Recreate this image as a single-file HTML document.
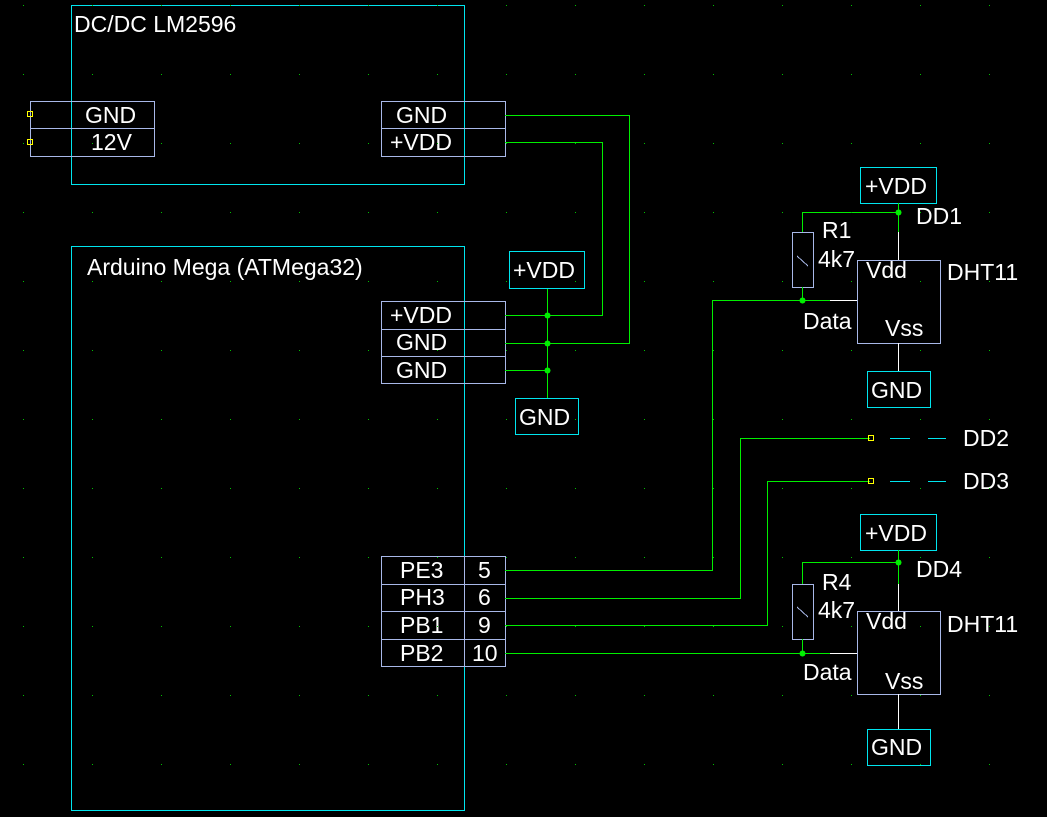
<!DOCTYPE html>
<html><head><meta charset="utf-8"><style>
html,body{margin:0;padding:0;background:#000;}
svg{display:block;}
text{font-family:"Liberation Sans",sans-serif;font-size:23px;fill:#fff;}
</style></head><body>
<svg width="1047" height="817" viewBox="0 0 1047 817" xmlns="http://www.w3.org/2000/svg" shape-rendering="crispEdges">
<rect width="1047" height="817" fill="#000"/>
<g fill="none" stroke-width="1">
<rect x="71.5" y="5.5" width="393" height="179" stroke="#00e5ee"/>
<rect x="71.5" y="246.5" width="393" height="564" stroke="#00e5ee"/>
<g stroke="#a8b8e8">
<rect x="30.5" y="101.5" width="124" height="55"/><line x1="30" y1="128.5" x2="155" y2="128.5"/>
<rect x="381.5" y="101.5" width="124" height="55"/><line x1="381" y1="128.5" x2="506" y2="128.5"/>
<rect x="381.5" y="301.5" width="124" height="82"/><line x1="381" y1="329.5" x2="506" y2="329.5"/><line x1="381" y1="356.5" x2="506" y2="356.5"/>
<rect x="381.5" y="556.5" width="124" height="110"/><line x1="381" y1="584.5" x2="506" y2="584.5"/><line x1="381" y1="611.5" x2="506" y2="611.5"/><line x1="381" y1="639.5" x2="506" y2="639.5"/>
<line x1="464.5" y1="556" x2="464.5" y2="667"/>
<rect x="792.5" y="232.5" width="21" height="55"/>
<rect x="792.5" y="584.5" width="21" height="55"/>
<rect x="857.5" y="260.5" width="83" height="83"/>
<rect x="857.5" y="611.5" width="83" height="83"/>
<line x1="797" y1="256" x2="808" y2="266"/>
<line x1="797" y1="607" x2="808" y2="617"/>
</g>
<g stroke="#00e5ee">
<rect x="509.5" y="251.5" width="75" height="37"/>
<rect x="515.5" y="398.5" width="63" height="36"/>
<rect x="860.5" y="167.5" width="76" height="36"/>
<rect x="867.5" y="371.5" width="63" height="36"/>
<rect x="860.5" y="514.5" width="76" height="36"/>
<rect x="867.5" y="729.5" width="63" height="36"/>
<line x1="890" y1="438.5" x2="910" y2="438.5"/><line x1="928" y1="438.5" x2="946" y2="438.5"/>
<line x1="890" y1="481.5" x2="910" y2="481.5"/><line x1="928" y1="481.5" x2="946" y2="481.5"/>
</g>
<g stroke="#00ee00">
<polyline points="505,115.5 629.5,115.5 629.5,343.5 505,343.5"/>
<polyline points="505,142.5 602.5,142.5 602.5,315.5 505,315.5"/>
<polyline points="547.5,289 547.5,398"/>
<line x1="505" y1="370.5" x2="547" y2="370.5"/>
<polyline points="505,570.5 712.5,570.5 712.5,300.5 830,300.5"/>
<polyline points="505,598.5 740.5,598.5 740.5,438.5 870,438.5"/>
<polyline points="505,625.5 767.5,625.5 767.5,481.5 870,481.5"/>
<line x1="505" y1="653.5" x2="830" y2="653.5"/>
<polyline points="802.5,232 802.5,212.5 898.5,212.5"/>
<line x1="898.5" y1="203" x2="898.5" y2="232"/>
<line x1="802.5" y1="287" x2="802.5" y2="300"/>
<polyline points="802.5,584 802.5,562.5 898.5,562.5"/>
<line x1="898.5" y1="550" x2="898.5" y2="584"/>
<line x1="802.5" y1="639" x2="802.5" y2="653"/>
</g>
<g stroke="#ffffff">
<line x1="898.5" y1="232" x2="898.5" y2="260"/>
<line x1="830" y1="300.5" x2="857" y2="300.5"/>
<line x1="898.5" y1="343" x2="898.5" y2="371"/>
<line x1="898.5" y1="584" x2="898.5" y2="611"/>
<line x1="830" y1="653.5" x2="857" y2="653.5"/>
<line x1="898.5" y1="694" x2="898.5" y2="729"/>
</g>
<g stroke="#ffff00">
<rect x="27.5" y="111.5" width="5" height="5"/>
<rect x="27.5" y="139.5" width="5" height="5"/>
<rect x="868.5" y="435.5" width="5" height="5"/>
<rect x="868.5" y="478.5" width="5" height="5"/>
</g>
</g>
<g fill="#00ee00">
<circle cx="547.5" cy="315.5" r="3"/><circle cx="547.5" cy="343.5" r="3"/><circle cx="547.5" cy="370.5" r="3"/>
<circle cx="898.5" cy="212.5" r="3"/><circle cx="802.5" cy="300.5" r="3"/>
<circle cx="898.5" cy="562.5" r="3"/><circle cx="802.5" cy="653.5" r="3"/>
</g>
<text x="74" y="32">DC/DC LM2596</text>
<text x="87" y="275">Arduino Mega (ATMega32)</text>
<text x="85" y="123">GND</text>
<text x="91" y="150">12V</text>
<text x="396" y="123">GND</text>
<text x="390" y="150">+VDD</text>
<text x="513" y="278">+VDD</text>
<text x="390" y="323">+VDD</text>
<text x="396" y="350">GND</text>
<text x="396" y="378">GND</text>
<text x="519" y="425">GND</text>
<text x="400" y="578">PE3</text>
<text x="400" y="605">PH3</text>
<text x="400" y="633">PB1</text>
<text x="400" y="661">PB2</text>
<text x="478" y="578">5</text>
<text x="478" y="605">6</text>
<text x="478" y="633">9</text>
<text x="472" y="661">10</text>
<text x="865" y="194">+VDD</text>
<text x="916" y="224">DD1</text>
<text x="822" y="238">R1</text>
<text x="818" y="267">4k7</text>
<text x="866" y="278">Vdd</text>
<text x="947" y="280">DHT11</text>
<text x="803" y="329">Data</text>
<text x="885" y="336">Vss</text>
<text x="871" y="398">GND</text>
<text x="963" y="446">DD2</text>
<text x="963" y="489">DD3</text>
<text x="865" y="541">+VDD</text>
<text x="916" y="577">DD4</text>
<text x="822" y="590">R4</text>
<text x="818" y="618">4k7</text>
<text x="866" y="629">Vdd</text>
<text x="947" y="632">DHT11</text>
<text x="803" y="680">Data</text>
<text x="885" y="689">Vss</text>
<text x="871" y="755">GND</text>
<g fill="#00c000" id="dots"></g>
</svg>
<script>
var g=document.getElementById('dots');
for(var x=23;x<1047;x+=69)for(var y=5;y<817;y+=69){var r=document.createElementNS('http://www.w3.org/2000/svg','rect');r.setAttribute('x',x);r.setAttribute('y',y);r.setAttribute('width',1);r.setAttribute('height',1);g.appendChild(r);}
</script>
</body></html>
